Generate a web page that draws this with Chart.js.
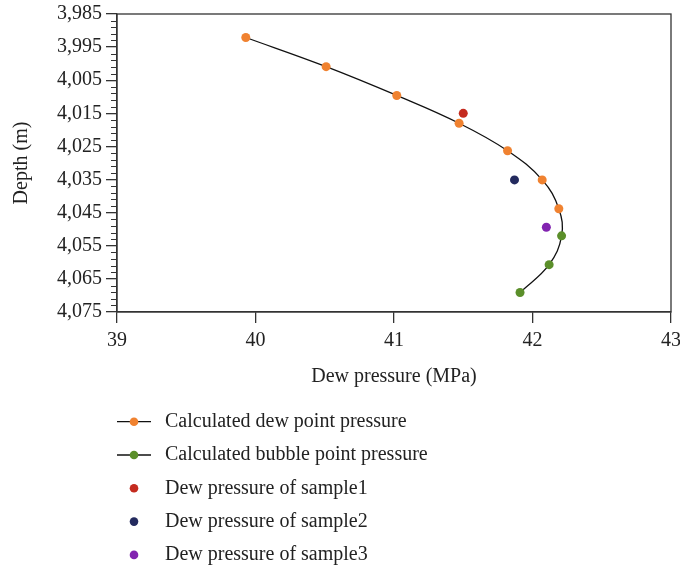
<!DOCTYPE html>
<html>
<head>
<meta charset="utf-8">
<script src="https://cdn.jsdelivr.net/npm/chart.js@4"></script>
<style>
  body { margin: 0; background: #fff; }
</style>
</head>
<body>
<canvas id="dewChart" width="680" height="569"></canvas>
<script>
// data
var dewPressure = [39.93, 40.51, 41.02, 41.47, 41.82, 42.07, 42.19];
var dewDepth = [3992.1, 4000.9, 4009.6, 4018.0, 4026.3, 4035.1, 4043.8];
var bubblePressure = [42.21, 42.12, 41.91];
var bubbleDepth = [4052.0, 4060.7, 4069.1];
var sampleNames = ['Dew pressure of sample1', 'Dew pressure of sample2', 'Dew pressure of sample3'];
var samplePressure = [41.50, 41.87, 42.10];
var sampleDepth = [4015.0, 4035.1, 4049.4];
var xTicks = [39, 40, 41, 42, 43];
var yTicks = [3985, 3995, 4005, 4015, 4025, 4035, 4045, 4055, 4065, 4075];

var serif = '"Liberation Serif", "DejaVu Serif", serif';
var ink = '#222';
var fontSize = 20;
var sampleColors = ['#c42b1f', '#232a5e', '#8224b0'];

function toPoints(xs, ys) {
  return xs.map(function (x, i) { return { x: x, y: ys[i] }; });
}

var datasets = [
  {
    label: 'Calculated dew point pressure',
    data: toPoints(dewPressure, dewDepth),
    backgroundColor: '#f08230', borderWidth: 0, pointRadius: 4.5,
    legendLine: true
  },
  {
    label: 'Calculated bubble point pressure',
    data: toPoints(bubblePressure, bubbleDepth),
    backgroundColor: '#5b8f2a', borderWidth: 0, pointRadius: 4.5,
    legendLine: true
  }
];
sampleNames.forEach(function (name, i) {
  datasets.push({
    label: name,
    data: [{ x: samplePressure[i], y: sampleDepth[i] }],
    backgroundColor: sampleColors[i], borderWidth: 0, pointRadius: 4.5
  });
});
// smooth black curve through all calculated points (drawn under the dots)
datasets.push({
  label: 'curve',
  data: toPoints(dewPressure.concat(bubblePressure), dewDepth.concat(bubbleDepth)),
  showLine: true, pointRadius: 0, borderColor: '#111', borderWidth: 1.3,
  tension: 0.4, fill: false, noLegend: true
});

// box, minor ticks and the stacked legend
var extras = {
  id: 'extras',
  afterDraw: function (chart) {
    var ctx = chart.ctx, a = chart.chartArea, y = chart.scales.y;
    ctx.save();
    ctx.strokeStyle = '#333';
    ctx.lineWidth = 1.3;
    ctx.strokeRect(a.left, a.top, a.right - a.left, a.bottom - a.top);
    ctx.lineWidth = 1;
    for (var v = 3987; v < 4075; v += 2) {
      if ((v - 3985) % 10 === 0) continue;
      var py = Math.round(y.getPixelForValue(v)) + 0.5;
      ctx.beginPath();
      ctx.moveTo(a.left - 6, py);
      ctx.lineTo(a.left, py);
      ctx.stroke();
    }
    // legend
    var rowY = 421.7;
    ctx.font = fontSize + 'px ' + serif;
    ctx.textBaseline = 'middle';
    chart.data.datasets.forEach(function (ds) {
      if (ds.noLegend) return;
      if (ds.legendLine) {
        ctx.strokeStyle = '#111';
        ctx.lineWidth = 1.3;
        ctx.beginPath();
        ctx.moveTo(117, rowY);
        ctx.lineTo(151, rowY);
        ctx.stroke();
      }
      ctx.fillStyle = ds.backgroundColor;
      ctx.beginPath();
      ctx.arc(134, rowY, 4.3, 0, Math.PI * 2);
      ctx.fill();
      ctx.fillStyle = ink;
      ctx.fillText(ds.label, 165, rowY);
      rowY += 33.3;
    });
    ctx.restore();
  }
};

new Chart(document.getElementById('dewChart'), {
  type: 'scatter',
  data: { datasets: datasets },
  plugins: [extras],
  options: {
    responsive: false,
    animation: false,
    layout: { padding: { top: 14, right: 9, bottom: 179, left: 0 } },
    plugins: { legend: { display: false }, tooltip: { enabled: false } },
    scales: {
      x: {
        type: 'linear', min: 39, max: 43,
        afterBuildTicks: function (s) { s.ticks = xTicks.map(function (v) { return { value: v }; }); },
        afterFit: function (s) { s.height = 78; s.paddingLeft = 0; s.paddingRight = 0; },
        grid: { display: true, drawOnChartArea: false, drawTicks: true, tickLength: 11, color: '#333', lineWidth: 1.3 },
        border: { display: true, color: '#333', width: 1.3 },
        ticks: { color: ink, font: { family: serif, size: fontSize }, padding: 6, maxRotation: 0 },
        title: { display: true, text: 'Dew pressure (MPa)', color: ink, font: { family: serif, size: fontSize }, padding: { top: 0, bottom: 1 } }
      },
      y: {
        type: 'linear', min: 3985, max: 4075, reverse: true,
        afterBuildTicks: function (s) { s.ticks = yTicks.map(function (v) { return { value: v }; }); },
        afterFit: function (s) { s.width = 117; s.paddingTop = 0; s.paddingBottom = 0; },
        grid: { display: true, drawOnChartArea: false, drawTicks: true, tickLength: 11, color: '#333', lineWidth: 1.3 },
        border: { display: true, color: '#333', width: 1.3 },
        ticks: {
          color: ink, font: { family: serif, size: fontSize }, padding: 4,
          callback: function (v) { return v.toLocaleString('en-US'); }
        },
        title: { display: true, text: 'Depth (m)', color: ink, font: { family: serif, size: fontSize }, padding: { top: 10, bottom: 0 } }
      }
    }
  }
});
</script>
</body>
</html>
